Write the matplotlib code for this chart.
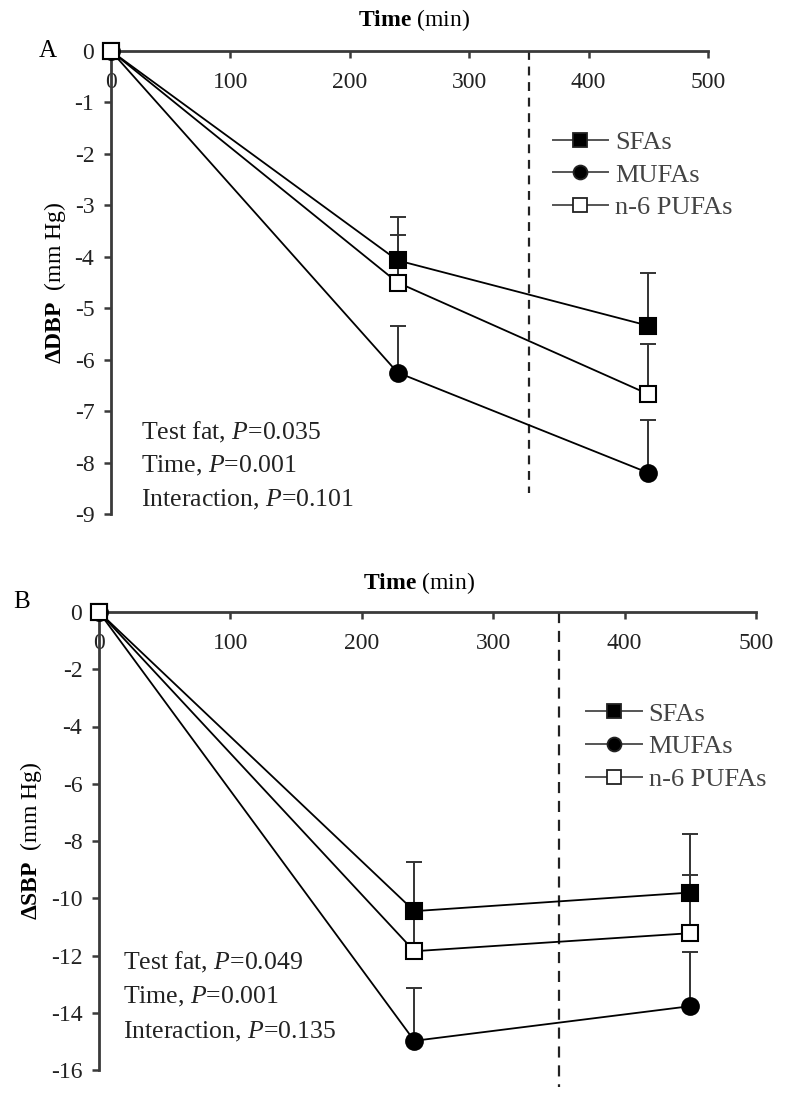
import matplotlib
matplotlib.use("Agg")
import matplotlib.pyplot as plt
from matplotlib.lines import Line2D
import numpy as np

plt.rcParams['font.family'] = ['Liberation Serif', 'DejaVu Serif']
plt.rcParams['mathtext.fontset'] = 'custom'
plt.rcParams['mathtext.rm'] = 'Liberation Serif'
plt.rcParams['mathtext.it'] = 'Liberation Serif:italic'
plt.rcParams['mathtext.bf'] = 'Liberation Serif:bold'
plt.rcParams['axes.unicode_minus'] = False

# ---------------- data ----------------
time_min = [0, 240, 450]
series_names = ["SFAs", "MUFAs", "n-6 PUFAs"]

# Panel A: change in diastolic BP
dbp_sfa = [0, -4.07, -5.34]
dbp_mufa = [0, -6.25, -8.20]
dbp_pufa = [0, -4.50, -6.67]
dbp_sfa_err = [0.84, 1.02]
dbp_mufa_err = [0.90, 1.03]
dbp_pufa_err = [0.93, 0.97]
dbp_stats = ["Test fat, $P$=0.035", "Time, $P$=0.001", "Interaction, $P$=0.101"]
dbp_yticks = [0, -1, -2, -3, -4, -5, -6, -7, -8, -9]

# Panel B: change in systolic BP
sbp_sfa = [0, -10.45, -9.80]
sbp_mufa = [0, -14.98, -13.77]
sbp_pufa = [0, -11.85, -11.22]
sbp_sfa_err = [1.72, 2.05]
sbp_mufa_err = [1.84, 1.89]
sbp_pufa_err = [1.40, 2.04]
sbp_stats = ["Test fat, $P$=0.049", "Time, $P$=0.001", "Interaction, $P$=0.135"]
sbp_yticks = [0, -2, -4, -6, -8, -10, -12, -14, -16]

xticks = [0, 100, 200, 300, 400, 500]
cutoff_time = 350

W, H = 789, 1101
fig = plt.figure(figsize=(W / 100, H / 100), dpi=100)


def px_axes(x0, x1, ytop, ybot):
    return fig.add_axes([x0 / W, 1 - ybot / H, (x1 - x0) / W, (ybot - ytop) / H])


styles = [
    dict(marker='s', mfc='black', mec='black'),
    dict(marker='o', mfc='black', mec='black'),
    dict(marker='s', mfc='white', mec='black'),
]


def draw_panel(ax, series, errs, yticks, ymin, stats, stats_x, stats_y,
               dash_end, dash_pat, leg_anchor, ylabel):
    ax.set_xlim(0, 500)
    ax.set_ylim(ymin, 0)
    for s in ['top', 'right']:
        ax.spines[s].set_visible(False)
    ax.spines['bottom'].set_position(('axes', 1.0))
    for s in ['bottom', 'left']:
        ax.spines[s].set_linewidth(2.0)
        ax.spines[s].set_color('#3a3a3a')
    ax.set_xticks(xticks)
    ax.set_xticklabels([str(t) for t in xticks])
    ax.set_yticks(yticks)
    ax.set_yticklabels([str(t) for t in yticks])
    ax.tick_params(axis='both', direction='out', length=5, width=1.8,
                   color='#3a3a3a', labelsize=17, labelcolor='#222222')
    ax.tick_params(axis='x', pad=10)
    ax.tick_params(axis='y', pad=7)

    # dashed cut-off line
    ax.plot([cutoff_time, cutoff_time], [0, dash_end], color='#222222',
            lw=1.6, ls=(0, dash_pat), clip_on=False, zorder=1)

    for vals, err, st in zip(series, errs, styles):
        ax.plot(time_min, vals, color='black', lw=1.3, zorder=2, clip_on=False)
        ax.errorbar(time_min[1:], vals[1:], yerr=[np.zeros(len(err)), err],
                    fmt='none', ecolor='#333333', elinewidth=1.4,
                    capsize=6, capthick=1.4, zorder=3)
    for vals, st in zip(series, styles):
        ax.plot(time_min, vals, ls='none', ms=12, mew=1.5, zorder=5,
                clip_on=False, **st)

    for txt, yy in zip(stats, stats_y):
        ax.text(stats_x, yy, txt, fontsize=18.5, ha='left', va='center',
                color='#222222')

    handles = [Line2D([], [], color='#555555', lw=1.4, ms=10, mew=1.3,
                      **dict(st, mec='#222222')) for st in styles]
    ax.legend(handles, series_names, loc='center left',
              bbox_to_anchor=leg_anchor, bbox_transform=ax.transData,
              frameon=False, fontsize=19, handlelength=2.1,
              handletextpad=0.25, labelspacing=0.35, borderpad=0,
              borderaxespad=0, labelcolor='#444444')
    ax.set_ylabel(ylabel, fontsize=17, labelpad=5)


axA = px_axes(111, 708, 51, 514)
draw_panel(axA, [dbp_sfa, dbp_mufa, dbp_pufa],
           [dbp_sfa_err, dbp_mufa_err, dbp_pufa_err],
           dbp_yticks, -9, dbp_stats, 25, [-7.42, -8.07, -8.72],
           -8.6, (4, 3), (370, -2.41),
           r"$\mathbf{\Delta DBP}$  (mm Hg)")

axB = px_axes(99, 756, 612, 1070)
draw_panel(axB, [sbp_sfa, sbp_mufa, sbp_pufa],
           [sbp_sfa_err, sbp_mufa_err, sbp_pufa_err],
           sbp_yticks, -16, sbp_stats, 18, [-12.23, -13.45, -14.67],
           -16.6, (5, 3.5), (371, -4.7),
           r"$\mathbf{\Delta SBP}$  (mm Hg)")

# axis titles
fig.text(414 / W, 1 - 20 / H, r"$\mathbf{Time}$ (min)",
         ha='center', va='center', fontsize=17)
fig.text(419 / W, 1 - 583 / H, r"$\mathbf{Time}$ (min)",
         ha='center', va='center', fontsize=17)

# panel letters
fig.text(48 / W, 1 - 51 / H, "A", ha='center', va='center', fontsize=18)
fig.text(22 / W, 1 - 602 / H, "B", ha='center', va='center', fontsize=18)

fig.savefig("out.png", dpi=100)
